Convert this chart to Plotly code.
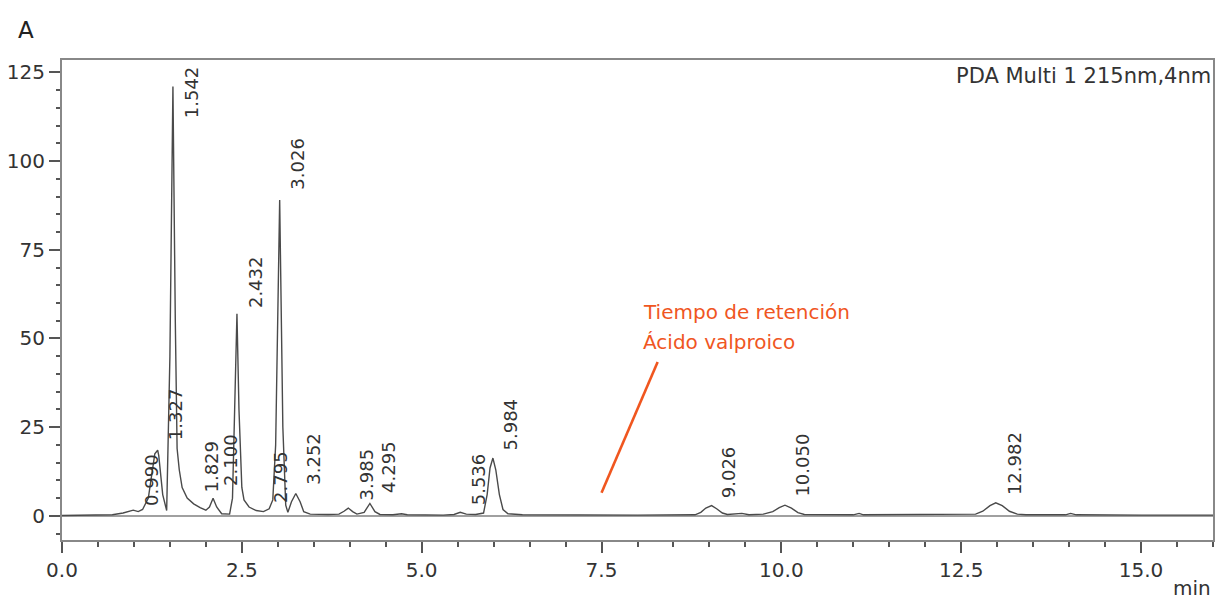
import plotly.graph_objects as go

# ---- data ----
time_min = [0.00, 0.30, 0.55, 0.70, 0.85, 0.93, 0.99, 1.06, 1.12, 1.20, 1.25, 1.29, 1.33,
            1.345, 1.40, 1.455, 1.50, 1.542, 1.575, 1.60, 1.63, 1.67, 1.74, 1.83, 1.92,
            2.00, 2.05, 2.10, 2.15, 2.22, 2.33, 2.37, 2.40, 2.432, 2.46, 2.50, 2.53, 2.60,
            2.70, 2.80, 2.88, 2.93, 2.97, 3.026, 3.07, 3.11, 3.14, 3.19, 3.25, 3.31, 3.36,
            3.45, 3.70, 3.85, 3.92, 3.98, 4.04, 4.10, 4.20, 4.28, 4.35, 4.42, 4.60, 4.72,
            4.80, 5.30, 5.45, 5.536, 5.62, 5.75, 5.86, 5.91, 5.95, 5.99, 6.03, 6.08, 6.13,
            6.20, 6.40, 7.00, 8.00, 8.80, 8.88, 8.95, 9.03, 9.10, 9.18, 9.25, 9.45, 9.55,
            9.75, 9.88, 9.97, 10.05, 10.14, 10.23, 10.32, 11.00, 11.08, 11.14, 12.00, 12.70,
            12.80, 12.90, 12.98, 13.07, 13.17, 13.28, 13.40, 13.95, 14.02, 14.10, 15.00, 16.00]
signal_mau = [0.1, 0.2, 0.4, 0.3, 0.8, 1.2, 1.6, 1.2, 1.8, 5.0, 12.0, 17.5, 18.5,
              17.0, 6.0, 1.5, 45.0, 121.0, 55.0, 19.0, 13.0, 8.0, 5.0, 3.4, 2.3,
              1.6, 2.5, 5.0, 2.5, 0.6, 0.5, 5.0, 30.0, 57.0, 30.0, 8.0, 4.5, 2.5,
              1.5, 1.2, 2.0, 4.5, 20.0, 89.0, 25.0, 3.0, 1.0, 4.0, 6.3, 4.0, 1.2,
              0.5, 0.4, 0.5, 1.3, 2.2, 1.2, 0.5, 1.0, 3.5, 1.2, 0.4, 0.3, 0.6,
              0.3, 0.2, 0.4, 1.0, 0.5, 0.4, 0.8, 6.0, 13.5, 16.3, 13.0, 6.0, 1.8,
              0.6, 0.3, 0.2, 0.2, 0.3, 1.0, 2.2, 2.9, 2.0, 0.8, 0.4, 0.7, 0.3,
              0.5, 1.2, 2.3, 3.0, 2.2, 0.9, 0.4, 0.3, 0.7, 0.3, 0.3, 0.5,
              1.3, 2.9, 3.7, 2.9, 1.3, 0.5, 0.3, 0.3, 0.7, 0.3, 0.2, 0.2]

peak_times = [0.990, 1.327, 1.542, 1.829, 2.100, 2.432, 2.795, 3.026, 3.252,
              3.985, 4.295, 5.536, 5.984, 9.026, 10.050, 12.982]
peak_labels = ["0.990", "1.327", "1.542", "1.829", "2.100", "2.432", "2.795", "3.026", "3.252",
               "3.985", "4.295", "5.536", "5.984", "9.026", "10.050", "12.982"]
label_heights = [2.3, 20.9, 111.5, 5.9, 7.9, 58.0, 3.1, 91.3, 8.2,
                 3.7, 5.9, 2.5, 18.0, 4.5, 5.0, 5.4]

x_ticks = [0.0, 2.5, 5.0, 7.5, 10.0, 12.5, 15.0]
x_tick_text = ["0.0", "2.5", "5.0", "7.5", "10.0", "12.5", "15.0"]
y_ticks = [0, 25, 50, 75, 100, 125]

pointer_x = [7.50, 8.28]
pointer_y = [6.5, 43.4]
note_lines = ["Tiempo de retención", "Ácido valproico"]
note_x = 8.05
note_y = [57.5, 49.0]

FONT = "DejaVu Sans"
ORANGE = "#f0561f"

fig = go.Figure()
fig.add_trace(go.Scatter(x=time_min, y=signal_mau, mode="lines",
                         line=dict(color="#4a4a4a", width=1.4), hoverinfo="skip"))
fig.add_trace(go.Scatter(x=pointer_x, y=pointer_y, mode="lines",
                         line=dict(color=ORANGE, width=2.6), hoverinfo="skip"))

annotations = []
for t, lab, h in zip(peak_times, peak_labels, label_heights):
    annotations.append(dict(x=t, y=h, xref="x", yref="y", text=lab, textangle=-90,
                            xanchor="center", yanchor="bottom", xshift=18, showarrow=False,
                            font=dict(family=FONT, size=18, color="#333333")))
for txt, ny in zip(note_lines, note_y):
    annotations.append(dict(x=note_x, y=ny, xref="x", yref="y", text=txt,
                            xanchor="left", yanchor="middle", showarrow=False,
                            font=dict(family=FONT, size=20, color=ORANGE)))
annotations.append(dict(x=1.0, y=1.0, xref="paper", yref="paper", text="PDA Multi 1 215nm,4nm",
                        xanchor="right", yanchor="top", yshift=-2, showarrow=False,
                        font=dict(family=FONT, size=21, color="#333333")))
annotations.append(dict(x=-0.031, y=1.062, xref="paper", yref="paper", text="A",
                        xanchor="center", yanchor="middle", showarrow=False,
                        font=dict(family=FONT, size=23, color="#222222")))
annotations.append(dict(x=1.0, y=-0.10, xref="paper", yref="paper", text="min",
                        xanchor="right", yanchor="middle", showarrow=False,
                        font=dict(family=FONT, size=20, color="#333333")))

fig.update_layout(
    width=1218, height=604,
    margin=dict(l=62, r=3, t=60, b=64),
    paper_bgcolor="white", plot_bgcolor="white",
    showlegend=False,
    annotations=annotations,
    font=dict(family=FONT, size=20, color="#333333"),
    xaxis=dict(range=[0, 16.0], tickmode="array", tickvals=x_ticks, ticktext=x_tick_text,
               ticks="outside", ticklen=11, tickwidth=1.5, tickcolor="#555",
               minor=dict(dtick=0.5, tick0=0, ticks="outside", ticklen=5, tickwidth=1.5, tickcolor="#555"),
               showline=True, linecolor="#888888", linewidth=2, mirror=True,
               showgrid=False, zeroline=False,
               tickfont=dict(family=FONT, size=20, color="#333333")),
    yaxis=dict(range=[-6.8, 128.5], tickmode="array", tickvals=y_ticks,
               ticks="outside", ticklen=11, tickwidth=1.5, tickcolor="#555",
               minor=dict(dtick=5, tick0=0, ticks="outside", ticklen=4, tickwidth=1.5, tickcolor="#555"),
               showline=True, linecolor="#888888", linewidth=2, mirror=True,
               showgrid=False, zeroline=True, zerolinecolor="#a0a0a0", zerolinewidth=2,
               tickfont=dict(family=FONT, size=20, color="#333333")),
)

fig.write_html("out.html", config={"displayModeBar": False},
               post_script="document.body.style.margin='0px';document.body.style.overflow='hidden';")
